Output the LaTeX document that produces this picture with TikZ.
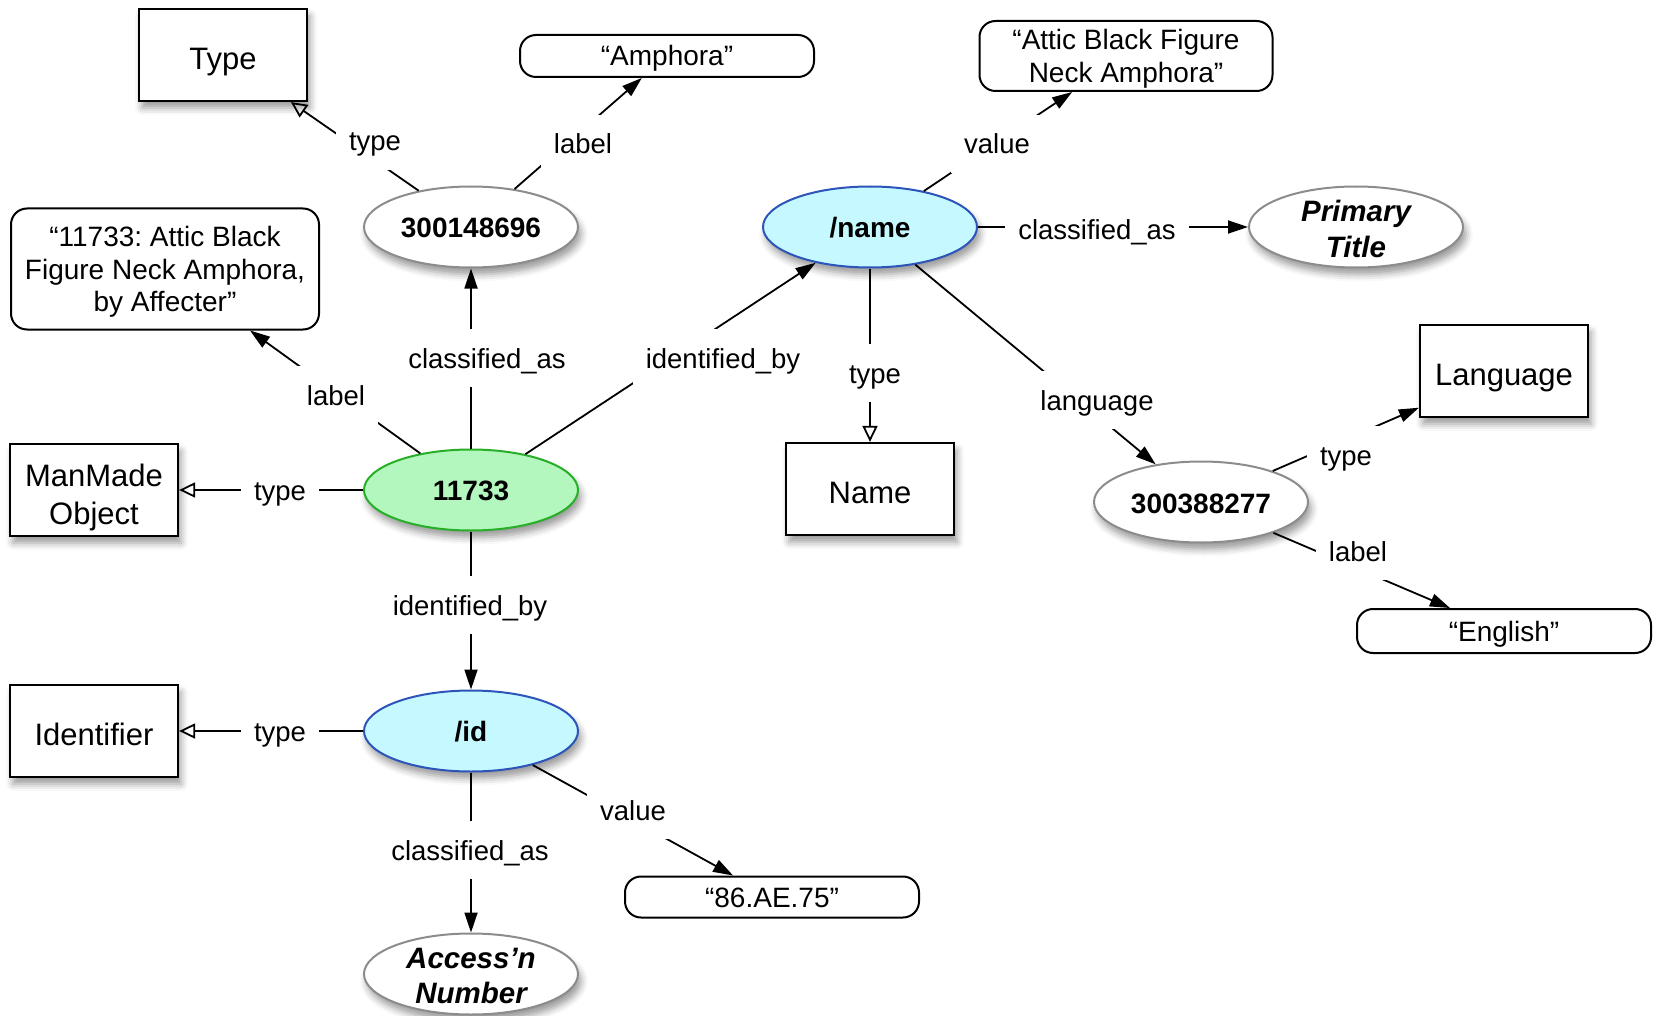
\documentclass[tikz,border=0pt]{standalone}
\usepackage{fontspec}
\setmainfont{Liberation Sans}
\usetikzlibrary{shapes.geometric,arrows.meta,shadows.blur}
\frenchspacing
\definecolor{entgray}{RGB}{140,140,140}
\definecolor{objgreen}{RGB}{40,175,40}
\definecolor{objfill}{RGB}{180,247,190}
\definecolor{partblue}{RGB}{45,85,185}
\definecolor{partfill}{RGB}{198,249,255}
% #1: distance of the first baseline below the node centre
\newcommand{\ntx}[2]{\raisebox{-#1}[0pt][0pt]{\begin{tabular}[t]{@{}c@{}}#2\end{tabular}}}
\tikzset{
  shad/.style={blur shadow={shadow xshift=3pt, shadow yshift=-7pt, shadow blur radius=7pt, shadow opacity=40}},
  cls/.style={rectangle, draw, line width=2.2pt, fill=white, minimum width=168pt, minimum height=92pt, inner sep=0pt, font=\fontsize{31}{38.5}\selectfont, shad},
  val/.style={rectangle, draw, line width=2pt, fill=white, rounded corners=16pt, minimum width=294pt, minimum height=42pt, inner sep=0pt, font=\fontsize{28}{32.5}\selectfont},
  ent/.style={ellipse, draw=entgray, line width=2pt, fill=white, minimum width=214pt, minimum height=81pt, inner sep=0pt, font=\fontsize{28}{30}\selectfont\bfseries, shad},
  obj/.style={ent, draw=objgreen, fill=objfill},
  part/.style={ent, draw=partblue, fill=partfill},
  concept/.style={ent, font=\fontsize{29.5}{35.8}\selectfont\bfseries\itshape},
  lab/.style={fill=white, inner xsep=13pt, inner ysep=13pt, text height=26pt, text depth=6pt, font=\fontsize{27.5}{33}\selectfont},
  rel/.style={line width=1.8pt, -{Triangle[length=20pt,width=13pt]}},
  isa/.style={line width=1.8pt, -{Triangle[open,length=16pt,width=15pt]}},
}
\begin{document}
\begin{tikzpicture}[x=1pt,y=-1pt]
\useasboundingbox (0,0) rectangle (1653,1016);
% main nodes
\node[cls] (Type) at (223,55) {\ntx{14.5pt}{Type}};
\node[val] (amph) at (667,56) {\ntx{10pt}{“Amphora”}};
\node[val, minimum width=293pt, minimum height=70pt] (attic) at (1126,56) {\ntx{-6.25pt}{“Attic Black Figure\\Neck Amphora”}};
\node[ent] (c1) at (471,227) {\ntx{10.5pt}{300148696}};
\node[val, minimum width=308pt, minimum height=121pt] (olabel) at (165,269) {\ntx{-22pt}{“11733: Attic Black\\Figure Neck Amphora,\\by Affecter”}};
\node[part] (name) at (870,227) {\ntx{11pt}{/name}};
\node[concept] (prim) at (1356,227) {\ntx{-5.5pt}{Primary\\Title}};
\node[cls] (Lang) at (1504,371) {\ntx{14.5pt}{Language}};
\node[cls] (MMO) at (94,490) {\ntx{-4pt}{ManMade\\Object}};
\node[obj] (obj) at (471,490) {\ntx{10.5pt}{11733}};
\node[cls] (Name) at (870,489) {\ntx{14.5pt}{Name}};
\node[ent] (c2) at (1201,502) {\ntx{11pt}{300388277}};
\node[val, minimum height=44pt] (eng) at (1504,631) {\ntx{10pt}{“English”}};
\node[cls] (Ident) at (94,731) {\ntx{14.5pt}{Identifier}};
\node[part] (id) at (471,731) {\ntx{10.5pt}{/id}};
\node[val, minimum height=41pt] (accv) at (772,897) {\ntx{10pt}{“86.AE.75”}};
\node[concept] (acc) at (471,974) {\ntx{-6pt}{Access’n\\Number}};
% connectors
\draw[isa] (c1) -- (Type);
\draw[rel] (c1) -- (amph);
\draw[rel] (obj) -- (olabel);
\draw[rel] (obj) -- (c1);
\draw[rel] (obj) -- (name);
\draw[isa] (obj) -- (MMO);
\draw[rel] (obj) -- (id);
\draw[isa] (id) -- (Ident);
\draw[rel] (id) -- (accv);
\draw[rel] (id) -- (acc);
\draw[rel] (name) -- (attic);
\draw[rel] (name) -- (prim);
\draw[isa] (name) -- (Name);
\draw[rel] (name) -- (c2);
\draw[rel] (c2) -- (Lang);
\draw[rel] (c2) -- (eng);
% connector labels
\node[lab] (l1) at (375,141) {type};
\node[lab] (l2) at (583,144) {label};
\node[lab] (l3) at (336,395) {label};
\node[lab] (l4) at (487,358) {classified\_as};
\node[lab] (l5) at (723,358) {identified\_by};
\node[lab] (l6) at (280,490) {type};
\node[lab] (l7) at (470,605) {identified\_by};
\node[lab] (l8) at (280,731) {type};
\node[lab] (l9) at (633,810) {value};
\node[lab] (l10) at (470,850) {classified\_as};
\node[lab] (l11) at (997,144) {value};
\node[lab] (l12) at (1097,230) {classified\_as};
\node[lab] (l13) at (875,373) {type};
\node[lab] (l14) at (1097,400) {language};
\node[lab] (l15) at (1346,455) {type};
\node[lab] (l16) at (1358,551) {label};
\end{tikzpicture}
\end{document}
